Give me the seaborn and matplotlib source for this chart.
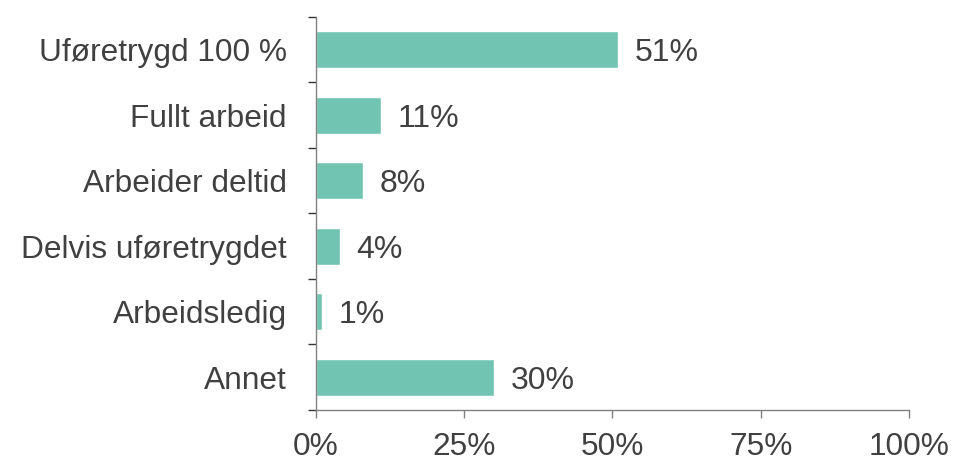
import matplotlib
matplotlib.use("Agg")
import matplotlib.pyplot as plt
import seaborn as sns
import pandas as pd
import numpy as np
from matplotlib.ticker import FixedLocator

categories = ["Uføretrygd 100 %", "Fullt arbeid", "Arbeider deltid",
              "Delvis uføretrygdet", "Arbeidsledig", "Annet"]
values = [51, 11, 8, 4, 1, 30]
x_ticks = [0, 25, 50, 75, 100]
x_tick_labels = ["0%", "25%", "50%", "75%", "100%"]

bar_color = "#72C4B2"
text_color = "#404040"
axis_color = "#808080"

sns.set_style("white")
plt.rcParams["font.family"] = ["Liberation Sans", "DejaVu Sans"]

df = pd.DataFrame({"kategori": categories, "andel": values})

fig = plt.figure(figsize=(9.56, 4.62), dpi=100)
ax = fig.add_axes([0.3305, 0.1126, 0.6203, 0.8506])

sns.barplot(data=df, x="andel", y="kategori", orient="h", color=bar_color,
            saturation=1, width=0.57, ax=ax)

# prosentetiketter til høyre for søylene
for i, v in enumerate(values):
    ax.annotate(f"{v}%", xy=(v, i), xytext=(12, -2.5), textcoords="offset points",
                va="center", ha="left", fontsize=23, color=text_color)

ax.set_xlim(0, 100)
ax.set_ylim(len(categories) - 0.5, -0.5)
ax.set_xticks(x_ticks)
ax.set_xticklabels(x_tick_labels)
ax.set_xlabel("")
ax.set_ylabel("")

ax.yaxis.set_minor_locator(FixedLocator(np.arange(-0.5, len(categories), 1.0)))
ax.tick_params(axis="y", which="major", length=0, pad=21, labelsize=22.8,
               labelcolor=text_color)
ax.tick_params(axis="y", which="minor", length=6, width=1, color="#333333",
               direction="out", left=True)
ax.tick_params(axis="x", which="major", length=6, width=1, color=axis_color,
               direction="out", bottom=True, pad=10, labelsize=22.8,
               labelcolor=text_color)

for side in ["top", "right"]:
    ax.spines[side].set_visible(False)
for side in ["left", "bottom"]:
    ax.spines[side].set_visible(True)
    ax.spines[side].set_color(axis_color)
    ax.spines[side].set_linewidth(1)

fig.savefig("out.png", dpi=100)
